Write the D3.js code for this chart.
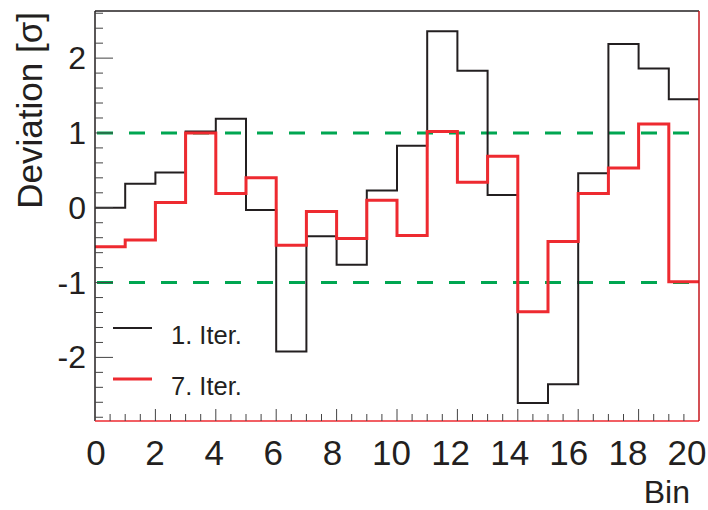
<!DOCTYPE html>
<html>
<head>
<meta charset="utf-8">
<script src="https://d3js.org/d3.v7.min.js"></script>
<style>
  body { margin: 0; background: #fff; }
  svg text { font-family: "Liberation Sans", Arial, sans-serif; fill: #231f20; }
</style>
</head>
<body>
<svg width="708" height="510"></svg>
<script>
// bin lower edges, and the upper edge of the last bin
var binEdges = [0, 1, 2, 3, 4, 5, 6, 7, 8, 9, 10, 11, 12, 13, 14, 15, 16, 17, 18, 19, 20];

var iter1 = [0.0, 0.32, 0.47, 1.02, 1.19, -0.03, -1.92, -0.38, -0.76, 0.23,
             0.83, 2.36, 1.83, 0.17, -2.61, -2.36, 0.46, 2.19, 1.86, 1.45];
var iter7 = [-0.52, -0.43, 0.07, 1.0, 0.19, 0.40, -0.50, -0.05, -0.41, 0.10,
             -0.37, 1.02, 0.34, 0.69, -1.39, -0.45, 0.19, 0.53, 1.12, -0.99];

var xTickLabels = [0, 2, 4, 6, 8, 10, 12, 14, 16, 18, 20];
var yTickLabels = [-2, -1, 0, 1, 2];
var refLines = [-1, 1];

var legendItems = [
  { label: "1. Iter.", color: "#231f20", width: 2 },
  { label: "7. Iter.", color: "#ee2a30", width: 3 }
];

var svg = d3.select("svg");
var plotLeft = 95, plotRight = 699, plotTop = 11, plotBottom = 421;

var x = d3.scaleLinear().domain([0, 20]).range([plotLeft, plotRight]);
// the numbers under the axis sit on a slightly shorter span than the ticks
var xLabelPos = d3.scaleLinear().domain([0, 20]).range([96, 687]);
var y = d3.scaleLinear().domain([-2.85, 2.63]).range([plotBottom, plotTop]);

// reference lines at +-1 sigma
svg.selectAll("line.ref")
  .data(refLines)
  .enter()
  .append("line")
  .attr("x1", plotLeft + 2)
  .attr("x2", plotRight - 10)
  .attr("y1", function(d) { return y(d); })
  .attr("y2", function(d) { return y(d); })
  .attr("stroke", "#00a651")
  .attr("stroke-width", 3)
  .attr("stroke-dasharray", "16,16");

function stepPoints(values) {
  var pts = values.map(function(v, i) { return [binEdges[i], v]; });
  pts.push([binEdges[values.length], values[values.length - 1]]);
  return pts;
}

var step = d3.line()
  .x(function(d) { return x(d[0]); })
  .y(function(d) { return y(d[1]); })
  .curve(d3.curveStepAfter);

svg.append("path")
  .attr("d", step(stepPoints(iter1)))
  .attr("fill", "none")
  .attr("stroke", legendItems[0].color)
  .attr("stroke-width", legendItems[0].width);

svg.append("path")
  .attr("d", step(stepPoints(iter7)))
  .attr("fill", "none")
  .attr("stroke", legendItems[1].color)
  .attr("stroke-width", legendItems[1].width);

// frame
svg.append("line").attr("x1", plotLeft).attr("x2", plotRight).attr("y1", plotTop).attr("y2", plotTop)
  .attr("stroke", "#231f20").attr("stroke-width", 1.5);
svg.append("line").attr("x1", plotLeft).attr("x2", plotLeft).attr("y1", plotTop).attr("y2", plotBottom)
  .attr("stroke", "#231f20").attr("stroke-width", 1.5);
svg.append("line").attr("x1", plotLeft).attr("x2", plotRight).attr("y1", plotBottom).attr("y2", plotBottom)
  .attr("stroke", "#ee2a30").attr("stroke-width", 1.5);
svg.append("line").attr("x1", plotRight).attr("x2", plotRight).attr("y1", plotTop).attr("y2", plotBottom)
  .attr("stroke", "#c4161c").attr("stroke-width", 1.5);

// y ticks
var yMinor = d3.range(-14, 14).map(function(k) { return k * 0.2; });
svg.selectAll("line.ytick")
  .data(yMinor)
  .enter()
  .append("line")
  .attr("x1", plotLeft)
  .attr("x2", function(d) { return Math.abs(d - Math.round(d)) < 1e-6 ? plotLeft + 18 : plotLeft + 8; })
  .attr("y1", function(d) { return y(d); })
  .attr("y2", function(d) { return y(d); })
  .attr("stroke", "#444")
  .attr("stroke-width", 1);

svg.selectAll("text.ylab")
  .data(yTickLabels)
  .enter()
  .append("text")
  .attr("x", 86)
  .attr("y", function(d) { return y(d) + 11; })
  .attr("text-anchor", "end")
  .style("font-size", "32px")
  .text(function(d) { return d; });

// x ticks
var xMinor = d3.range(1, 40).map(function(k) { return k * 0.5; });
svg.selectAll("line.xtick")
  .data(xMinor)
  .enter()
  .append("line")
  .attr("x1", function(d) { return x(d); })
  .attr("x2", function(d) { return x(d); })
  .attr("y1", plotBottom)
  .attr("y2", function(d) { return d % 2 === 0 ? plotBottom - 12 : plotBottom - 7; })
  .attr("stroke", "#444")
  .attr("stroke-width", 1);

svg.selectAll("text.xlab")
  .data(xTickLabels)
  .enter()
  .append("text")
  .attr("x", function(d) { return xLabelPos(d); })
  .attr("y", 465)
  .attr("text-anchor", "middle")
  .style("font-size", "35px")
  .text(function(d) { return d; });

svg.append("text")
  .attr("x", 690)
  .attr("y", 503)
  .attr("text-anchor", "end")
  .style("font-size", "32px")
  .text("Bin");

svg.append("text")
  .attr("transform", "translate(42,12) rotate(-90)")
  .attr("text-anchor", "end")
  .style("font-size", "35px")
  .text("Deviation [σ]");

// legend
var legend = svg.selectAll("g.legend")
  .data(legendItems)
  .enter()
  .append("g")
  .attr("transform", function(d, i) { return "translate(0," + (i * 51) + ")"; });

legend.append("line")
  .attr("x1", 113).attr("x2", 152)
  .attr("y1", 328).attr("y2", 328)
  .attr("stroke", function(d) { return d.color; })
  .attr("stroke-width", function(d) { return d.width; });

legend.append("text")
  .attr("x", 171)
  .attr("y", 344)
  .style("font-size", "25.5px")
  .text(function(d) { return d.label; });
</script>
</body>
</html>
